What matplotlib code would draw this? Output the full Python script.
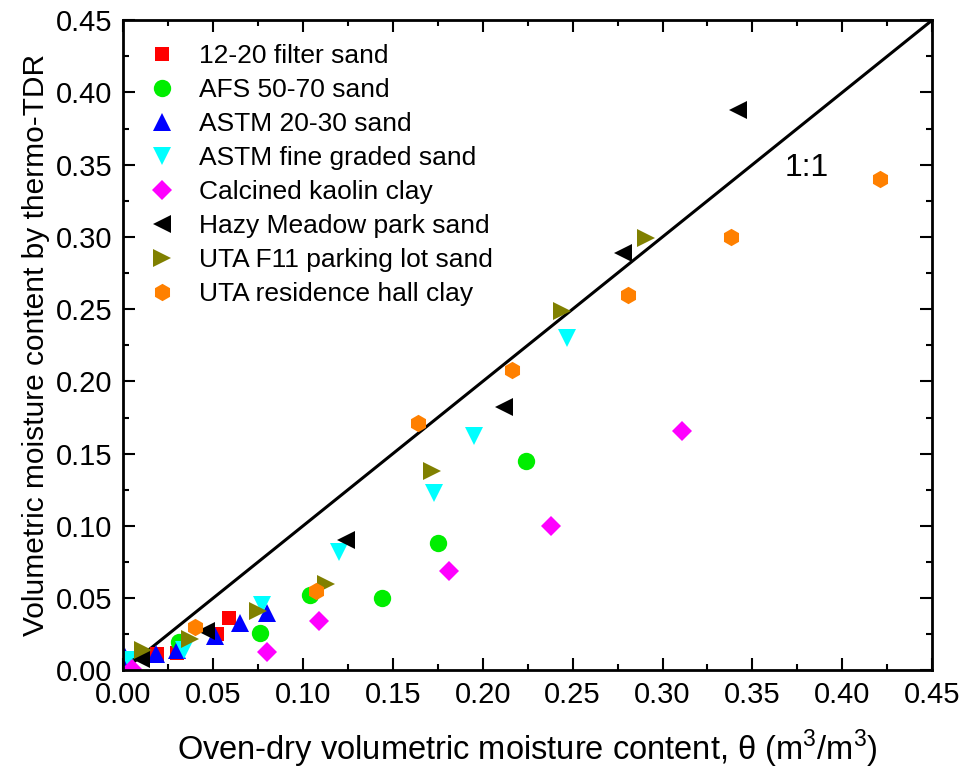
import matplotlib
matplotlib.use('Agg')
import matplotlib.pyplot as plt
from matplotlib.ticker import MultipleLocator

plt.rcParams['font.family'] = ['Liberation Sans', 'DejaVu Sans']
plt.rcParams['mathtext.fontset'] = 'custom'
plt.rcParams['mathtext.rm'] = 'Liberation Sans'

# oven-dry theta (x) vs thermo-TDR theta (y) for each soil
filter_x = [0.019, 0.030, 0.052, 0.059]
filter_y = [0.0115, 0.012, 0.025, 0.036]

afs_x = [0.031, 0.076, 0.104, 0.144, 0.175, 0.224]
afs_y = [0.0195, 0.026, 0.052, 0.050, 0.088, 0.145]

astm2030_x = [0.001, 0.018, 0.030, 0.051, 0.065, 0.080]
astm2030_y = [0.009, 0.011, 0.014, 0.024, 0.033, 0.040]

astmfine_x = [0.003, 0.034, 0.077, 0.120, 0.173, 0.195, 0.247]
astmfine_y = [0.007, 0.014, 0.045, 0.082, 0.123, 0.162, 0.230]

kaolin_x = [0.005, 0.080, 0.109, 0.181, 0.238, 0.311]
kaolin_y = [0.001, 0.013, 0.034, 0.069, 0.100, 0.166]

hazy_x = [0.010, 0.046, 0.124, 0.212, 0.278, 0.342]
hazy_y = [0.008, 0.027, 0.090, 0.182, 0.289, 0.388]

f11_x = [0.011, 0.037, 0.075, 0.113, 0.172, 0.244, 0.291]
f11_y = [0.014, 0.022, 0.041, 0.060, 0.138, 0.249, 0.299]

hall_x = [0.040, 0.107, 0.164, 0.216, 0.281, 0.338, 0.421]
hall_y = [0.030, 0.055, 0.171, 0.208, 0.260, 0.300, 0.340]

fig = plt.figure(figsize=(9.63, 7.75), dpi=100)
ax = fig.add_axes([0.128, 0.135, 0.840, 0.839])

ax.plot([0, 0.45], [0, 0.45], color='black', lw=2.2, zorder=1)

ax.plot(filter_x, filter_y, 's', color='#ff0000', ms=10.5, mew=0, label='12-20 filter sand')
ax.plot(afs_x, afs_y, 'o', color='#00ee00', ms=12.5, mew=0, label='AFS 50-70 sand')
ax.plot(astm2030_x, astm2030_y, '^', color='#0000ff', ms=13.5, mew=0, label='ASTM 20-30 sand')
ax.plot(astmfine_x, astmfine_y, 'v', color='#00ffff', ms=13.5, mew=0, label='ASTM fine graded sand')
ax.plot(kaolin_x, kaolin_y, 'D', color='#ff00ff', ms=10, mew=0, label='Calcined kaolin clay')
ax.plot(hazy_x, hazy_y, '<', color='black', ms=13.5, mew=0, label='Hazy Meadow park sand')
ax.plot(f11_x, f11_y, '>', color='#808000', ms=13.5, mew=0, label='UTA F11 parking lot sand')
ax.plot(hall_x, hall_y, 'h', color='#ff8000', ms=12.5, mew=0, label='UTA residence hall clay')

ax.text(0.38, 0.348, '1:1', fontsize=23, ha='center', va='center')

ax.set_xlim(0, 0.45)
ax.set_ylim(0, 0.45)
ax.xaxis.set_major_locator(MultipleLocator(0.05))
ax.yaxis.set_major_locator(MultipleLocator(0.05))
ax.xaxis.set_minor_locator(MultipleLocator(0.025))
ax.yaxis.set_minor_locator(MultipleLocator(0.025))
ax.xaxis.set_major_formatter(lambda v, p: f'{v:.2f}')
ax.yaxis.set_major_formatter(lambda v, p: f'{v:.2f}')
ax.tick_params(which='both', direction='in', top=True, right=True, width=1.5, labelsize=21)
ax.tick_params(which='major', length=8.5, pad=8)
ax.tick_params(which='minor', length=4.5)
for s in ax.spines.values():
    s.set_linewidth(2)

ax.set_xlabel(r'Oven-dry volumetric moisture content, $\mathrm{\theta}$ (m$^3$/m$^3$)',
              fontsize=23.5, labelpad=13)
ax.set_ylabel('Volumetric moisture content by thermo-TDR',
              fontsize=21.5, labelpad=4)

ax.legend(loc='upper left', bbox_to_anchor=(0.002, 1.0), frameon=False, fontsize=19,
          labelspacing=0.38, handletextpad=0.9, handlelength=1.0, numpoints=1)

plt.savefig('out.png', dpi=100)
